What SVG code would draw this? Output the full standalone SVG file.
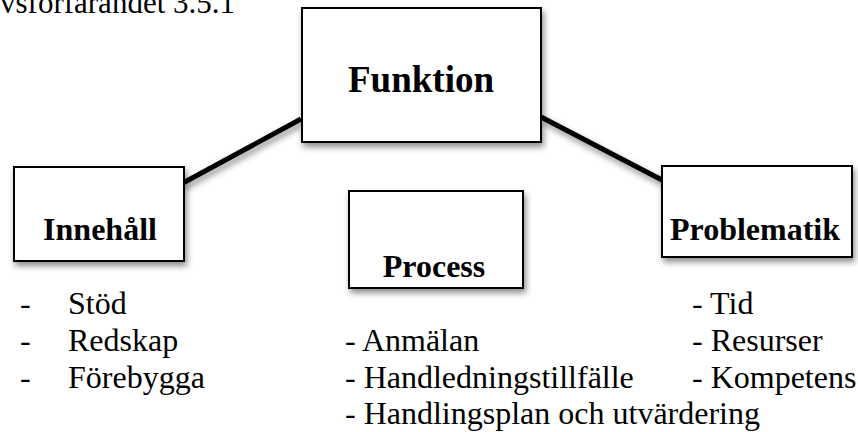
<svg xmlns="http://www.w3.org/2000/svg" width="858" height="432" viewBox="0 0 858 432">
<defs>
<filter id="sh" x="-20%" y="-20%" width="150%" height="160%">
<feDropShadow dx="2" dy="4" stdDeviation="3" flood-color="#000" flood-opacity="0.45"/>
</filter>
</defs>
<style>
.box{fill:#fff;stroke:#000;stroke-width:2;filter:url(#sh)}
.lbl{font-family:"Liberation Serif","Times New Roman",serif;font-weight:bold;font-size:32px;fill:#000}
.txt{font-family:"Liberation Serif","Times New Roman",serif;font-size:32px;fill:#000}
.con{stroke:#000;stroke-width:5;fill:none;filter:url(#sh)}
</style>
<rect width="858" height="432" fill="#fff"/>
<text class="txt" x="0" y="13" font-size="31" style="font-size:31px">vsförfarandet 3.5.1</text>
<g id="connectors">
<line class="con" x1="301" y1="119" x2="183" y2="183"/>
<line class="con" x1="422" y1="142" x2="422" y2="190"/>
<line class="con" x1="541" y1="117" x2="662" y2="180"/>
</g>
<g id="funktion">
<rect class="box" x="302" y="8" width="239" height="134"/>
<text class="lbl" x="421" y="92" text-anchor="middle" style="font-size:37px">Funktion</text>
</g>
<g id="innehall">
<rect class="box" x="14" y="167" width="170" height="94"/>
<text class="lbl" x="100" y="240" text-anchor="middle">Innehåll</text>
</g>
<g id="process">
<rect class="box" x="349" y="191" width="174" height="97"/>
<text class="lbl" x="434" y="277" text-anchor="middle">Process</text>
</g>
<g id="problematik">
<rect class="box" x="662" y="166" width="190" height="91"/>
<text class="lbl" x="755" y="240" text-anchor="middle">Problematik</text>
</g>
<g id="list-innehall">
<text class="txt" x="20" y="314">-</text><text class="txt" x="68" y="314">Stöd</text>
<text class="txt" x="20" y="351">-</text><text class="txt" x="68" y="351">Redskap</text>
<text class="txt" x="20" y="388">-</text><text class="txt" x="68" y="388">Förebygga</text>
</g>
<g id="list-process">
<text class="txt" x="345" y="351">- Anmälan</text>
<text class="txt" x="345" y="388">- Handledningstillfälle</text>
<text class="txt" x="345" y="424">- Handlingsplan och utvärdering</text>
</g>
<g id="list-problematik">
<text class="txt" x="692" y="314">- Tid</text>
<text class="txt" x="692" y="351">- Resurser</text>
<text class="txt" x="692" y="388">- Kompetens</text>
</g>
</svg>
